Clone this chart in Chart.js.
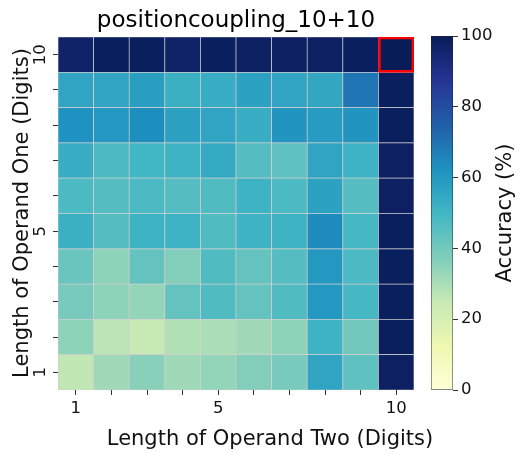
<!DOCTYPE html>
<html>
<head>
<meta charset="utf-8">
<script src="https://cdn.jsdelivr.net/npm/chart.js@4/dist/chart.umd.min.js"></script>
<style>
  html, body { margin: 0; padding: 0; background: #ffffff; }
  #wrap { position: relative; width: 520px; height: 454px; }
  #wrap canvas { position: absolute; left: 0; top: 0; }
</style>
</head>
<body>
<div id="wrap">
  <canvas id="heat" width="520" height="454"></canvas>
  <canvas id="cbar" width="520" height="454"></canvas>
</div>
<script>
// Column labels: length of operand two (digits)
const operandTwoLabels = ['1', '2', '3', '4', '5', '6', '7', '8', '9', '10'];
// Row labels: length of operand one (digits)
const operandOneLengths = [1, 2, 3, 4, 5, 6, 7, 8, 9, 10];
// Only these tick values carry text on the axes
const shownTicks = ['1', '5', '10'];
const colorbarTicks = [0, 20, 40, 60, 80, 100];

// Accuracy (%) — one row per operand-one length, columns follow operandTwoLabels
const accuracyLen1  = [26, 32, 36, 32, 34, 37, 39, 56, 44, 98];
const accuracyLen2  = [35, 27, 25, 29, 30, 32, 35, 51, 40, 99];
const accuracyLen3  = [39, 35, 34, 43, 47, 43, 47, 60, 49, 99];
const accuracyLen4  = [42, 35, 43, 37, 47, 43, 46, 60, 48, 99];
const accuracyLen5  = [52, 46, 51, 51, 47, 51, 51, 64, 49, 99];
const accuracyLen6  = [48, 46, 48, 46, 47, 51, 48, 57, 46, 98];
const accuracyLen7  = [53, 48, 50, 51, 54, 46, 44, 56, 51, 98];
const accuracyLen8  = [62, 60, 63, 57, 56, 53, 61, 59, 61, 99];
const accuracyLen9  = [56, 56, 58, 52, 53, 57, 56, 55, 69, 99];
const accuracyLen10 = [97, 99, 99, 97, 99, 98, 98, 98, 99, 100];
const accuracyRows = [accuracyLen1, accuracyLen2, accuracyLen3, accuracyLen4, accuracyLen5,
                      accuracyLen6, accuracyLen7, accuracyLen8, accuracyLen9, accuracyLen10];

// Cell outlined in red (operand one, operand two)
const highlightCell = { one: 10, two: '10' };

const chartTitle = 'positioncoupling_10+10';
const xTitle = 'Length of Operand Two (Digits)';
const yTitle = 'Length of Operand One (Digits)';
const colorbarTitle = 'Accuracy (%)';

// YlGnBu colour ramp, evenly spaced stops over 0..100
const ylGnBu = [
  [255, 255, 217], [237, 248, 177], [199, 233, 180], [127, 205, 187], [65, 182, 196],
  [29, 145, 192], [34, 94, 168], [37, 52, 148], [8, 29, 88]
];
function ylGnBuColor(v) {
  const t = Math.max(0, Math.min(1, v / 100)) * (ylGnBu.length - 1);
  const i = Math.min(Math.floor(t), ylGnBu.length - 2);
  const f = t - i;
  const a = ylGnBu[i], b = ylGnBu[i + 1];
  const c = a.map((x, k) => Math.round(x + (b[k] - x) * f));
  return `rgb(${c[0]},${c[1]},${c[2]})`;
}

const FONT = 'DejaVu Sans';
const TICK_SIZE = 16.5;
const LABEL_SIZE = 21;
const TITLE_SIZE = 23;
Chart.defaults.font.family = FONT;
Chart.defaults.color = '#111';
Chart.defaults.animation = false;

// One floating-bar dataset per row; each bar spans one unit of the row axis
const heatDatasets = operandOneLengths.map((len, r) => ({
  label: 'len ' + len,
  data: operandTwoLabels.map(() => [len - 0.5, len + 0.5]),
  backgroundColor: accuracyRows[r].map(ylGnBuColor),
  borderColor: '#cfcfcf',
  borderWidth: 0.7,
  borderSkipped: false,
  grouped: false,
  barPercentage: 1,
  categoryPercentage: 1
}));
heatDatasets.push({
  label: 'highlight',
  order: -1,
  data: operandTwoLabels.map(l => l === highlightCell.two
    ? [highlightCell.one - 0.5, highlightCell.one + 0.5] : null),
  backgroundColor: 'rgba(0,0,0,0)',
  borderColor: '#ff0000',
  borderWidth: 2,
  borderSkipped: false,
  grouped: false,
  barPercentage: 1,
  categoryPercentage: 1
});

// Title, axis titles and row tick labels
const heatText = {
  id: 'heatText',
  afterDraw(chart) {
    const { ctx, chartArea, scales } = chart;
    ctx.save();
    ctx.fillStyle = '#000';
    ctx.textAlign = 'center';

    ctx.font = `${TITLE_SIZE}px "${FONT}"`;
    ctx.textBaseline = 'alphabetic';
    ctx.fillText(chartTitle, (chartArea.left + chartArea.right) / 2, 27);

    ctx.fillStyle = '#111';
    ctx.font = `${LABEL_SIZE}px "${FONT}"`;
    ctx.textBaseline = 'middle';
    ctx.fillText(xTitle, 270, 439.5);

    ctx.save();
    ctx.translate(23, 213);
    ctx.rotate(-Math.PI / 2);
    ctx.fillText(yTitle, 0, 0);
    ctx.restore();

    ctx.font = `${TICK_SIZE}px "${FONT}"`;
    operandOneLengths.forEach(v => {
      if (!shownTicks.includes(String(v))) return;
      ctx.save();
      ctx.translate(41, scales.y.getPixelForValue(v));
      ctx.rotate(-Math.PI / 2);
      ctx.fillText(String(v), 0, 0);
      ctx.restore();
    });
    ctx.restore();
  }
};

new Chart(document.getElementById('heat'), {
  type: 'bar',
  data: { labels: operandTwoLabels, datasets: heatDatasets },
  plugins: [heatText],
  options: {
    responsive: false,
    layout: { padding: { left: 0, right: 106, top: 37, bottom: 0 } },
    plugins: {
      legend: { display: false },
      tooltip: { enabled: false },
      title: { display: false }
    },
    scales: {
      x: {
        type: 'category',
        offset: true,
        afterFit: s => { s.height = 64; },
        grid: { display: true, drawOnChartArea: false, drawTicks: true, tickLength: 5, offset: false, color: '#333' },
        border: { display: false },
        ticks: {
          autoSkip: false, maxRotation: 0, padding: 4,
          font: { size: TICK_SIZE }, color: '#111',
          callback: function (v) { const l = this.getLabelForValue(v); return shownTicks.includes(l) ? l : ''; }
        },
        title: { display: false }
      },
      y: {
        type: 'linear',
        min: 0.5, max: 10.5,
        afterFit: s => { s.width = 58; },
        afterBuildTicks: s => { s.ticks = operandOneLengths.map(v => ({ value: v })); },
        grid: { display: true, drawOnChartArea: false, drawTicks: true, tickLength: 5, color: '#333' },
        border: { display: false },
        ticks: { autoSkip: false, callback: () => '' },
        title: { display: false }
      }
    }
  }
});

// Colour-bar caption, reading bottom to top
const colorbarCaption = {
  id: 'colorbarCaption',
  afterDraw(chart) {
    const { ctx, chartArea } = chart;
    ctx.save();
    ctx.font = `${LABEL_SIZE}px "${FONT}"`;
    ctx.fillStyle = '#111';
    ctx.textAlign = 'center';
    ctx.textBaseline = 'middle';
    ctx.translate(506, (chartArea.top + chartArea.bottom) / 2);
    ctx.rotate(-Math.PI / 2);
    ctx.fillText(colorbarTitle, 0, 0);
    ctx.restore();
  }
};

// Colour bar: a single floating bar 0..100 filled with the same ramp
new Chart(document.getElementById('cbar'), {
  type: 'bar',
  data: {
    labels: ['scale'],
    datasets: [{
      data: [[0, 100]],
      backgroundColor: ctx => {
        const area = ctx.chart.chartArea;
        if (!area) return '#ffffff';
        const g = ctx.chart.ctx.createLinearGradient(0, area.bottom, 0, area.top);
        ylGnBu.forEach((c, i) => g.addColorStop(i / (ylGnBu.length - 1), `rgb(${c[0]},${c[1]},${c[2]})`));
        return g;
      },
      borderColor: '#222',
      borderWidth: 0.8,
      borderSkipped: false,
      barPercentage: 1,
      categoryPercentage: 1
    }]
  },
  plugins: [colorbarCaption],
  options: {
    responsive: false,
    layout: { padding: { left: 431, right: 27, top: 36, bottom: 64 } },
    plugins: { legend: { display: false }, tooltip: { enabled: false } },
    scales: {
      x: { display: false },
      y: {
        position: 'right',
        min: 0, max: 100,
        afterFit: s => { s.width = 40; },
        afterBuildTicks: s => { s.ticks = colorbarTicks.map(v => ({ value: v })); },
        grid: { display: true, drawOnChartArea: false, drawTicks: true, tickLength: 5, color: '#333' },
        border: { display: false },
        ticks: { padding: 3, font: { size: TICK_SIZE }, color: '#111' }
      }
    }
  }
});
</script>
</body>
</html>
